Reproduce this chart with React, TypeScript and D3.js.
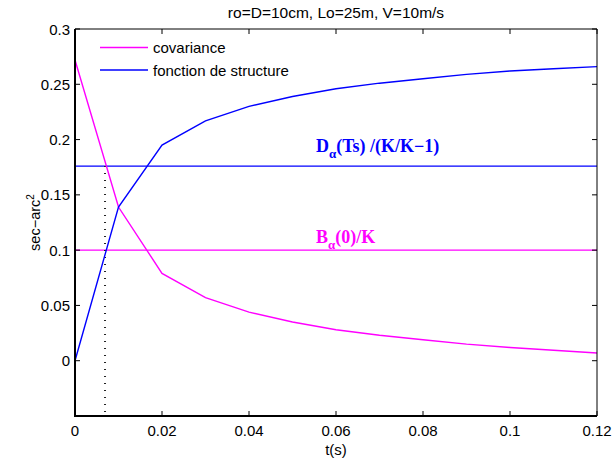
import React from "react";
import * as d3 from "d3";

const tValues = [0, 0.01, 0.02, 0.03, 0.04, 0.05, 0.06, 0.07, 0.08, 0.09, 0.1, 0.11, 0.12];
const covariance = [0.272, 0.139, 0.079, 0.057, 0.044, 0.035, 0.028, 0.023, 0.019, 0.015, 0.012, 0.0095, 0.007];
const structure = [0, 0.139, 0.195, 0.217, 0.23, 0.239, 0.246, 0.251, 0.255, 0.259, 0.262, 0.264, 0.266];
const covLevel = 0.1;
const structLevel = 0.176;
const crossT = 0.0069;
const xTicks = [0, 0.02, 0.04, 0.06, 0.08, 0.1, 0.12];
const yTicks = [0, 0.05, 0.1, 0.15, 0.2, 0.25, 0.3];
const yAllTicks = [-0.05, 0, 0.05, 0.1, 0.15, 0.2, 0.25, 0.3];
const title = "ro=D=10cm, Lo=25m, V=10m/s";
const legendLabels = ["covariance", "fonction de structure"];

const W = 612, H = 465;
const L = 75, R = 597, T = 29, B = 416;

export default function App() {
  const x = d3.scaleLinear().domain([0, 0.12]).range([L, R]);
  const y = d3.scaleLinear().domain([-0.05, 0.3]).range([B, T]);
  const line = d3.line<number>().x((_, i) => x(tValues[i])).y((d) => y(d));
  const mag = "#ff00ff";
  const blue = "#0000ff";
  const fmt = (v: number) => String(+v.toFixed(3));
  const font = "Helvetica, Arial, 'Liberation Sans', sans-serif";
  const serif = "'Liberation Serif', 'Times New Roman', serif";
  return (
    <svg width={W} height={H} style={{ position: "absolute", left: 0, top: 0, background: "#fff" }} fontFamily={font}>
      <rect x={0} y={0} width={W} height={H} fill="#fff" />
      <text x={(L + R) / 2} y={18} textAnchor="middle" fontSize={15.5}>{title}</text>
      {/* horizontal reference lines */}
      <line x1={L} x2={R} y1={y(structLevel)} y2={y(structLevel)} stroke={blue} strokeWidth={1.4} />
      <line x1={L} x2={R} y1={y(covLevel)} y2={y(covLevel)} stroke={mag} strokeWidth={1.4} />
      {/* dotted vertical */}
      <line x1={x(crossT)} x2={x(crossT)} y1={y(structLevel)} y2={B} stroke="#222" strokeWidth={2} strokeDasharray="1,6" />
      <path d={line(covariance) || ""} fill="none" stroke={mag} strokeWidth={1.4} />
      <path d={line(structure) || ""} fill="none" stroke={blue} strokeWidth={1.4} />
      {/* annotations */}
      <text x={316} y={152} fontFamily={serif} fontWeight="bold" fontSize={18} fill={blue}>
        D<tspan fontSize={13} dy={6}>α</tspan><tspan dy={-6}>(Ts) /(K/K−1)</tspan>
      </text>
      <text x={316} y={243} fontFamily={serif} fontWeight="bold" fontSize={18} fill={mag}>
        B<tspan fontSize={13} dy={6}>α</tspan><tspan dy={-6}>(0)/K</tspan>
      </text>
      {/* legend */}
      <line x1={100} x2={148} y1={47.5} y2={47.5} stroke={mag} strokeWidth={1.4} />
      <text x={153} y={53} fontSize={15}>{legendLabels[0]}</text>
      <line x1={100} x2={148} y1={70} y2={70} stroke={blue} strokeWidth={1.4} />
      <text x={153} y={75.5} fontSize={15}>{legendLabels[1]}</text>
      {/* axes box */}
      <line x1={R} x2={R} y1={T} y2={B} stroke="#000" strokeWidth={1} />
      <line x1={L} x2={R} y1={T} y2={T} stroke="#000" strokeWidth={1} />
      <line x1={L} x2={L} y1={T} y2={B + 1} stroke="#000" strokeWidth={2} />
      <line x1={L - 1} x2={R} y1={B} y2={B} stroke="#000" strokeWidth={2} />
      {xTicks.map((t) => (
        <g key={"x" + t}>
          <line x1={x(t)} x2={x(t)} y1={B} y2={B - 5} stroke="#000" />
          <line x1={x(t)} x2={x(t)} y1={T} y2={T + 5} stroke="#000" />
          <text x={x(t)} y={B + 19.5} textAnchor="middle" fontSize={15}>{fmt(t)}</text>
        </g>
      ))}
      {yAllTicks.map((t) => (
        <g key={"y" + t}>
          <line x1={L} x2={L + 5} y1={y(t)} y2={y(t)} stroke="#000" />
          <line x1={R} x2={R - 5} y1={y(t)} y2={y(t)} stroke="#000" />
        </g>
      ))}
      {yTicks.map((t) => (
        <text key={"yl" + t} x={L - 5} y={y(t) + 5.5} textAnchor="end" fontSize={15}>{fmt(t)}</text>
      ))}
      <text x={(L + R) / 2} y={455} textAnchor="middle" fontSize={15}>t(s)</text>
      <text transform={`translate(40, ${(T + B) / 2}) rotate(-90)`} textAnchor="middle" fontSize={14.5}>
        sec−arc<tspan fontSize={10} dy={-6}>2</tspan>
      </text>
    </svg>
  );
}
